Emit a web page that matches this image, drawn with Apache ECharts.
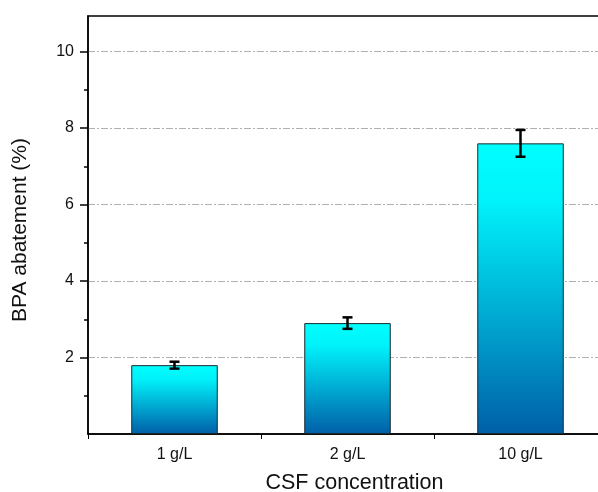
<!DOCTYPE html>
<html>
<head>
<meta charset="utf-8">
<script src="https://cdn.jsdelivr.net/npm/echarts@6/dist/echarts.min.js"></script>
<style>html,body{margin:0;padding:0;background:#fff;}#c{width:598px;height:492px;}</style>
</head>
<body>
<div id="c"></div>
<script>
const categories = ['1 g/L', '2 g/L', '10 g/L'];
const abatement = [1.8, 2.9, 7.6];
const errors = [0.09, 0.15, 0.35];
const majorTicks = [2, 4, 6, 8, 10];
const minorTicks = [1, 3, 5, 7, 9];

const FONT = 'Liberation Sans, Arial, sans-serif';
const chart = echarts.init(document.getElementById('c'), null, {renderer: 'canvas'});
const yMax = 10.93;

chart.setOption({
  animation: false,
  grid: {left: 88, top: 16, width: 519, height: 418, outerBoundsMode: 'none', containLabel: false, show: true, borderColor: '#000', borderWidth: 1.5, backgroundColor: 'transparent'},
  xAxis: {
    type: 'category',
    data: categories,
    name: 'CSF concentration',
    nameLocation: 'middle',
    nameGap: 38,
    nameTextStyle: {fontFamily: FONT, fontSize: 21.5, color: '#111', padding: [0, 0, 0, 14]},
    axisLine: {lineStyle: {color: '#000', width: 1.5}},
    axisTick: {show: true, length: 5, lineStyle: {color: '#000', width: 1}},
    axisLabel: {fontFamily: FONT, fontSize: 16, color: '#111', margin: 13},
    splitLine: {show: false}
  },
  yAxis: [{
    type: 'value',
    min: 0,
    max: yMax,
    interval: 2,
    name: 'BPA abatement (%)',
    nameLocation: 'middle',
    nameGap: 57,
    nameTextStyle: {fontFamily: FONT, fontSize: 21, color: '#111', padding: [0, 10, 0, 0]},
    axisLine: {show: true, lineStyle: {color: '#000', width: 1.5}},
    axisTick: {show: true, length: 8, customValues: majorTicks, lineStyle: {color: '#000', width: 1.5}},
    axisLabel: {fontFamily: FONT, fontSize: 16, color: '#111', margin: 14, customValues: majorTicks},
    splitLine: {show: true, showMinLine: true, showMaxLine: true, lineStyle: {color: '#b0b0b0', width: 1, type: [7, 2, 2, 2]}}
  }, {
    type: 'value',
    min: 0,
    max: yMax,
    interval: 2,
    position: 'left',
    axisLine: {show: false},
    axisTick: {show: true, length: 4, customValues: minorTicks, lineStyle: {color: '#000', width: 1.5}},
    axisLabel: {show: false},
    splitLine: {show: false}
  }],
  series: [{
    type: 'bar',
    data: abatement,
    barWidth: '50%',
    itemStyle: {
      borderColor: '#1a2a30',
      borderWidth: 1,
      color: new echarts.graphic.LinearGradient(0, 0, 0, 1, [
        {offset: 0, color: '#00ffff'},
        {offset: 0.2, color: '#00f2fa'},
        {offset: 1, color: '#005fa8'}
      ])
    },
    z: 2
  }, {
    type: 'custom',
    data: abatement.map((v, i) => [i, v - errors[i], v + errors[i]]),
    renderItem: function (params, api) {
      const x = api.coord([api.value(0), 0])[0];
      const lo = api.coord([api.value(0), api.value(1)])[1];
      const hi = api.coord([api.value(0), api.value(2)])[1];
      const hw = 5;
      const st = {stroke: '#000', lineWidth: 2.5};
      return {type: 'group', children: [
        {type: 'line', shape: {x1: x, y1: lo, x2: x, y2: hi}, style: st},
        {type: 'line', shape: {x1: x - hw, y1: lo, x2: x + hw, y2: lo}, style: st},
        {type: 'line', shape: {x1: x - hw, y1: hi, x2: x + hw, y2: hi}, style: st}
      ]};
    },
    z: 5
  }]
});
</script>
</body>
</html>
